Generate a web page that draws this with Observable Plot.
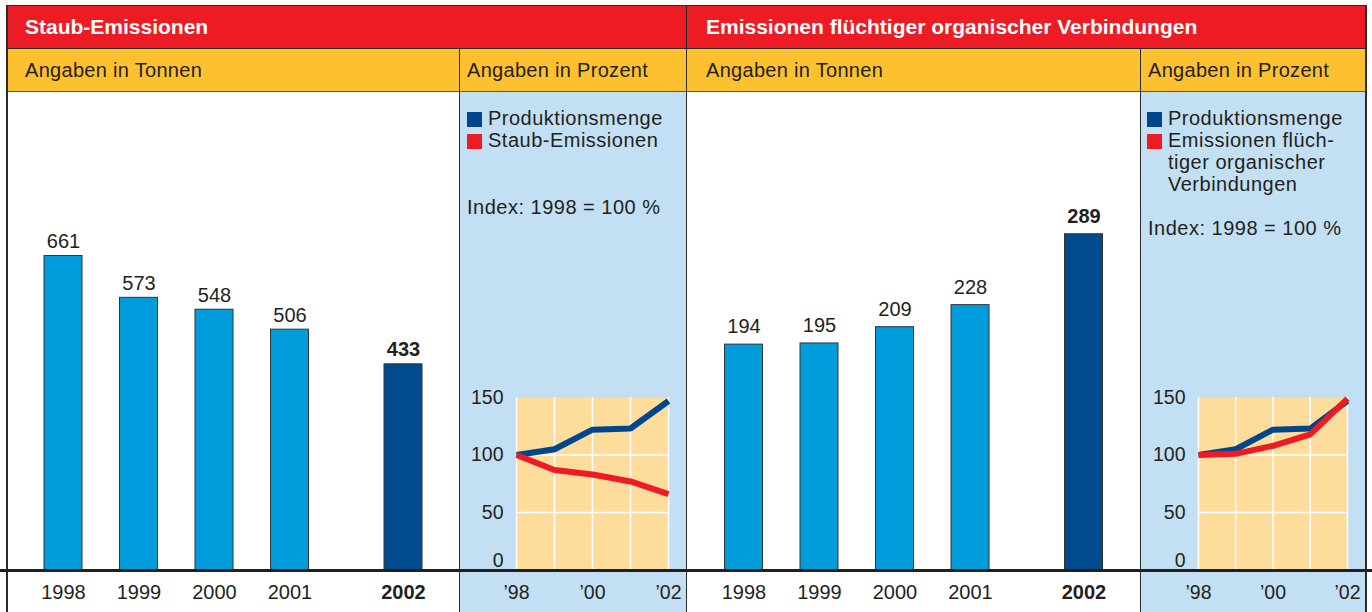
<!DOCTYPE html>
<html><head><meta charset="utf-8">
<script src="https://cdn.jsdelivr.net/npm/d3@7"></script>
<script src="https://cdn.jsdelivr.net/npm/@observablehq/plot@0.6"></script>
<style>
body{margin:0;background:#fff;font-family:"Liberation Sans",Arial,Helvetica,sans-serif;color:#231f20}
#root{position:relative;width:1372px;height:612px;overflow:hidden;background:#fff}
.a{position:absolute}
.ln{position:absolute;background:#2b2b2b;z-index:5}
.hdr{position:absolute;color:#fff;font-weight:bold;font-size:21px;line-height:21px;white-space:nowrap;z-index:6}
.sub{position:absolute;font-size:20px;line-height:20px;white-space:nowrap;letter-spacing:0.3px;z-index:6}
.leg{position:absolute;font-size:20px;line-height:22px;letter-spacing:0.5px;white-space:nowrap;z-index:6}
.sq{position:absolute;width:15px;height:15px;z-index:6}
.plotbox{position:absolute;top:92px;height:520px;z-index:3}
</style></head>
<body>
<div id="root">
  <div class="a" style="left:6px;top:5px;width:1360px;height:43px;background:#ED1C24"></div>
  <div class="a" style="left:6px;top:48px;width:1360px;height:43px;background:#FDC12F"></div>
  <div class="a" style="left:459px;top:91px;width:227px;height:521px;background:#C2DFF3"></div>
  <div class="a" style="left:1140px;top:91px;width:226px;height:521px;background:#C2DFF3"></div>

  <div class="hdr" style="left:25px;top:16px">Staub-Emissionen</div>
  <div class="hdr" style="left:706px;top:16px">Emissionen flüchtiger organischer Verbindungen</div>
  <div class="sub" style="left:25px;top:60px">Angaben in Tonnen</div>
  <div class="sub" style="left:467px;top:60px">Angaben in Prozent</div>
  <div class="sub" style="left:706px;top:60px">Angaben in Tonnen</div>
  <div class="sub" style="left:1148px;top:60px">Angaben in Prozent</div>

  <div class="sq" style="left:467px;top:111.5px;background:#00468C"></div>
  <div class="sq" style="left:467px;top:133.5px;background:#ED1C24"></div>
  <div class="leg" style="left:488px;top:107px">Produktionsmenge<br>Staub-Emissionen</div>
  <div class="leg" style="left:467px;top:196px">Index: 1998 = 100 %</div>

  <div class="sq" style="left:1147px;top:111.5px;background:#00468C"></div>
  <div class="sq" style="left:1147px;top:133.5px;background:#ED1C24"></div>
  <div class="leg" style="left:1168px;top:107px">Produktionsmenge<br>Emissionen flüch-<br>tiger organischer<br>Verbindungen</div>
  <div class="leg" style="left:1148px;top:217px">Index: 1998 = 100 %</div>

  <div id="p1" class="plotbox" style="left:7px;width:452px"></div>
  <div id="p2" class="plotbox" style="left:459px;width:227px"></div>
  <div id="p3" class="plotbox" style="left:686px;width:454px"></div>
  <div id="p4" class="plotbox" style="left:1140px;width:226px"></div>

  <div class="ln" style="left:6px;top:4.5px;width:1360px;height:1.5px"></div>
  <div class="ln" style="left:6px;top:47.5px;width:1360px;height:1.5px"></div>
  <div class="ln" style="left:6px;top:90.5px;width:1360px;height:1px;background:#555"></div>
  <div class="ln" style="left:6px;top:4.5px;width:1.5px;height:608px"></div>
  <div class="ln" style="left:685.5px;top:4.5px;width:1.5px;height:608px"></div>
  <div class="ln" style="left:1365px;top:4.5px;width:1.5px;height:608px"></div>
  <div class="ln" style="left:458.5px;top:48px;width:1.5px;height:564px"></div>
  <div class="ln" style="left:1139.5px;top:48px;width:1.5px;height:564px"></div>
  <div class="ln" style="left:0px;top:568.5px;width:1372px;height:3px;background:#231f20"></div>
</div>
<script>
// ---- data ----
const years = [1998, 1999, 2000, 2001, 2002];
const staubTonnen = [661, 573, 548, 506, 433];
const vocTonnen = [194, 195, 209, 228, 289];
const produktionIndex = [100, 105, 122, 123, 147];
const staubIndex = [100, 87, 83, 77, 66];
const vocIndex = [100, 101, 108, 118, 149];
const yTicks = [0, 50, 100, 150];
const xTickYears = [1998, 2000, 2002];

const FONT = "'Liberation Sans', Arial, Helvetica, sans-serif";
const TXT = "#231f20";
const BAR = "#009CDC";
const BAR_DARK = "#004B8E";
const LINE_BLUE = "#00468C";
const LINE_RED = "#ED1C24";
const ORANGE = "#FDDC9C";

function rows(vals) { return years.map((y, i) => ({year: y, value: vals[i]})); }

function barChart(vals, yMax, marginTop, xRange, width, labelDy) {
  const data = rows(vals);
  const last = years[years.length - 1];
  const normal = data.filter(d => d.year !== last);
  const hi = data.filter(d => d.year === last);
  return Plot.plot({
    width, height: 520,
    marginLeft: 0, marginRight: 0, marginTop, marginBottom: 42.5,
    style: {background: "transparent", fontFamily: FONT, overflow: "visible"},
    x: {type: "linear", domain: [1998, 2001, 2002], range: xRange, axis: null},
    y: {domain: [0, yMax], axis: null},
    marks: [
      Plot.rect(normal, {x1: "year", x2: "year", y1: 0, y2: "value", insetLeft: -19, insetRight: -19,
        fill: BAR, stroke: "#333", strokeWidth: 1}),
      Plot.rect(hi, {x1: "year", x2: "year", y1: 0, y2: "value", insetLeft: -19, insetRight: -19,
        fill: BAR_DARK, stroke: "#333", strokeWidth: 1}),
      Plot.text(normal, {x: "year", y: "value", text: d => String(d.value), dy: labelDy, fontSize: 20, fill: TXT}),
      Plot.text(hi, {x: "year", y: "value", text: d => String(d.value), dy: labelDy, fontSize: 20, fontWeight: "bold", fill: TXT}),
      Plot.text(normal, {x: "year", y: 0, text: d => String(d.year), dy: 22.5, fontSize: 20, fill: TXT}),
      Plot.text(hi, {x: "year", y: 0, text: d => String(d.year), dy: 22.5, fontSize: 20, fontWeight: "bold", fill: TXT})
    ]
  });
}

function lineChart(emis, width, marginLeft, marginRight) {
  const prod = rows(produktionIndex);
  const em = rows(emis);
  return Plot.plot({
    width, height: 520,
    marginLeft, marginRight, marginTop: 305, marginBottom: 42.5,
    style: {background: "transparent", fontFamily: FONT, overflow: "visible"},
    x: {domain: [1998, 2002], axis: null},
    y: {domain: [0, 150], axis: null},
    marks: [
      Plot.frame({fill: ORANGE, stroke: "none"}),
      Plot.ruleX(years, {stroke: "white", strokeWidth: 1.5}),
      Plot.ruleY([50, 100], {stroke: "white", strokeWidth: 1.5}),
      Plot.text(yTicks.filter(t => t > 0), {y: d => d, frameAnchor: "left", textAnchor: "end", lineAnchor: "middle", dx: -13,
        text: d => String(d), fontSize: 19.5, fill: TXT}),
      Plot.text(yTicks.filter(t => t === 0), {y: d => d, frameAnchor: "left", textAnchor: "end", lineAnchor: "middle", dx: -13, dy: -9.5,
        text: d => String(d), fontSize: 19.5, fill: TXT}),
      Plot.text(xTickYears, {x: d => d, frameAnchor: "bottom", lineAnchor: "middle", dy: 22.5,
        text: d => "\u2019" + String(d).slice(2), fontSize: 19.5, fill: TXT}),
      Plot.line(prod, {x: "year", y: "value", stroke: LINE_BLUE, strokeWidth: 6, strokeLinejoin: "miter", strokeLinecap: "butt"}),
      Plot.line(em, {x: "year", y: "value", stroke: LINE_RED, strokeWidth: 6, strokeLinejoin: "miter", strokeLinecap: "butt"})
    ]
  });
}

document.getElementById("p1").append(barChart(staubTonnen, 1000, 2.5, [56, 282.5, 396], 452, -14.5));
document.getElementById("p2").append(lineChart(staubIndex, 227, 57, 18));
document.getElementById("p3").append(barChart(vocTonnen, 400, 12.8, [57.5, 284, 397.5], 454, -18));
document.getElementById("p4").append(lineChart(vocIndex, 226, 58, 19));
</script>
</body></html>
